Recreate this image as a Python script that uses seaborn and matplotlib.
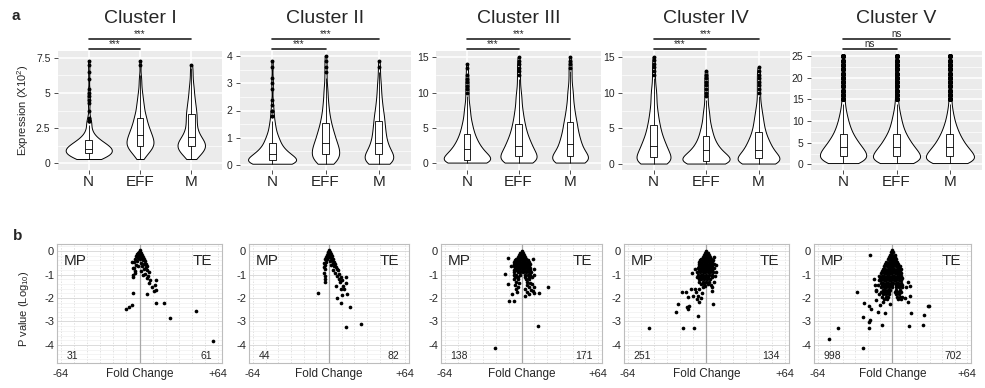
import numpy as np
import pandas as pd
import seaborn as sns
import matplotlib.pyplot as plt
from matplotlib.ticker import MultipleLocator, FixedLocator

sns.set_style("white")
plt.rcParams['font.family'] = ['Liberation Sans', 'DejaVu Sans']
plt.rcParams['mathtext.fontset'] = 'custom'
plt.rcParams['mathtext.rm'] = 'Liberation Sans'
plt.rcParams['mathtext.it'] = 'Liberation Sans:italic'

groups = ['N', 'EFF', 'M']
clusters = ['Cluster I', 'Cluster II', 'Cluster III', 'Cluster IV', 'Cluster V']
sig_short = ['***', '***', '***', '***', 'ns']   # N vs EFF
sig_long = ['***', '***', '***', '***', 'ns']    # N vs M

# expression levels (x10^2) and how many genes sit at each level, per group
levels_1 = [0.3, 0.5, 0.75, 1.0, 1.25, 1.5, 1.75, 2.0, 2.25, 2.5, 2.75, 3.0, 3.25, 3.5, 3.75,
            4.0, 4.25, 4.5, 4.75, 5.0, 5.25, 5.5, 5.75, 6.0, 6.25, 6.5, 6.75, 7.0, 7.3]
c1_n = [10, 16, 22, 22, 18, 13, 8, 5, 3, 2, 2, 3, 1, 0, 1, 0, 1, 1, 1, 1, 1, 0, 0, 1, 0, 1, 0, 1, 1]
c1_eff = [2, 4, 6, 9, 11, 11, 10, 9, 8, 7, 6, 5, 5, 4, 3, 3, 3, 2, 2, 2, 1, 1, 1, 1, 1, 0, 0, 1, 1]
c1_m = [3, 5, 8, 11, 12, 11, 8, 6, 5, 4, 4, 4, 4, 4, 4, 3, 3, 3, 2, 2, 2, 2, 1, 1, 1, 1, 1, 1, 0]

levels_2 = [0.05, 0.2, 0.4, 0.6, 0.8, 1.0, 1.2, 1.4, 1.6, 1.8, 2.0, 2.2, 2.4, 2.6, 2.8, 3.0,
            3.2, 3.4, 3.6, 3.8, 4.0]
c2_n = [25, 30, 22, 14, 10, 8, 5, 4, 3, 2, 2, 1, 1, 0, 1, 1, 1, 0, 1, 1, 0]
c2_eff = [6, 12, 14, 13, 11, 9, 8, 6, 5, 4, 3, 3, 2, 2, 2, 1, 1, 1, 1, 1, 1]
c2_m = [10, 16, 14, 10, 8, 7, 6, 6, 5, 5, 4, 3, 3, 2, 2, 2, 1, 1, 1, 1, 0]

levels_34 = [0.1, 0.5, 1, 1.5, 2, 2.5, 3, 3.5, 4, 4.5, 5, 5.5, 6, 6.5, 7, 7.5, 8, 8.5, 9, 9.5,
             10, 10.5, 11, 11.5, 12, 12.5, 13, 13.5, 14, 14.5, 15]
c3_n = [20, 18, 13, 12, 10, 8, 7, 6, 5, 4, 4, 3, 3, 2, 2, 2, 2, 1, 1, 1, 1, 1, 1, 1, 1, 1, 0, 1, 1, 0, 0]
c3_eff = [14, 14, 13, 11, 10, 9, 8, 7, 6, 5, 5, 4, 4, 3, 3, 3, 2, 2, 2, 2, 2, 1, 1, 1, 1, 1, 1, 1, 1, 1, 1]
c3_m = [16, 15, 13, 10, 9, 8, 7, 7, 6, 5, 5, 5, 4, 4, 3, 3, 3, 2, 2, 2, 2, 2, 1, 1, 1, 1, 1, 1, 1, 1, 1]
c4_n = [14, 14, 12, 11, 10, 9, 8, 7, 6, 5, 5, 4, 4, 3, 3, 3, 2, 2, 2, 2, 2, 2, 1, 1, 1, 1, 1, 1, 1, 1, 1]
c4_eff = [16, 18, 14, 11, 9, 7, 6, 5, 4, 4, 3, 3, 2, 2, 2, 2, 1, 1, 1, 1, 1, 1, 1, 1, 1, 1, 1, 0, 0, 0, 0]
c4_m = [15, 16, 13, 11, 9, 8, 7, 6, 5, 4, 4, 3, 3, 3, 2, 2, 2, 1, 1, 1, 1, 1, 1, 1, 1, 1, 1, 1, 0, 0, 0]

levels_5 = [0.3, 1, 2, 3, 4, 5, 6, 7, 8, 9, 10, 11, 12, 13, 14, 15, 16, 17, 18, 19, 20, 21, 22, 23, 24, 25]
c5_n = [30, 48, 54, 48, 40, 33, 27, 21, 17, 14, 11, 9, 7, 5, 4, 3, 3, 3, 3, 3, 3, 3, 3, 3, 3, 3]
c5_eff = [36, 52, 54, 46, 38, 31, 26, 20, 16, 13, 11, 9, 7, 5, 4, 3, 3, 3, 3, 3, 3, 3, 3, 3, 3, 3]
c5_m = [38, 54, 54, 45, 37, 30, 25, 20, 16, 13, 10, 8, 6, 5, 3, 3, 3, 3, 3, 3, 3, 3, 3, 3, 3, 3]

yticks_top = [[0, 2.5, 5, 7.5], [0, 1, 2, 3, 4], [0, 5, 10, 15], [0, 5, 10, 15], [0, 5, 10, 15, 20, 25]]
ytick_labels_top = [['0', '2.5', '5', '7.5'], ['0', '1', '2', '3', '4'], ['0', '5', '10', '15'],
                    ['0', '5', '10', '15'], ['0', '5', '10', '15', '20', '25']]

# volcano points: (log2 fold change, log10 p value)
volc_1 = [
    (0.0, 0.03), (-0.05, -0.02), (0.07, -0.04), (-0.1, -0.08), (0.12, -0.09), (0.02, -0.12),
    (-0.18, -0.14), (0.2, -0.15), (-0.07, -0.19), (0.09, -0.21), (-0.26, -0.2), (0.3, -0.24),
    (0.16, -0.28), (-0.14, -0.29), (-0.32, -0.33), (0.36, -0.33), (0.0, -0.35), (0.25, -0.4),
    (-0.22, -0.43), (0.44, -0.44), (-0.4, -0.48), (0.1, -0.5), (0.32, -0.54), (0.5, -0.56),
    (-0.3, -0.6), (0.2, -0.63), (-0.12, -0.62), (0.46, -0.68), (0.6, -0.62), (-0.45, -0.72),
    (0.36, -0.78), (0.56, -0.8), (-0.36, -0.86), (0.14, -0.84), (0.7, -0.9), (0.45, -0.96),
    (-0.5, -1.02), (0.3, -1.02), (0.67, -1.06), (0.6, -1.15), (0.83, -1.24), (1.29, -1.23),
    (0.75, -1.35), (1.17, -1.45), (0.92, -1.52), (1.12, -1.71), (1.24, -1.64), (0.54, -1.81),
    (-0.48, -1.12), (-0.36, -0.95), (-0.53, -0.73), (-0.58, -0.47), (-0.53, -1.8), (-0.56, -2.3),
    (-0.77, -2.4), (-1.02, -2.48), (1.29, -2.2), (1.84, -2.2), (2.34, -2.87), (4.3, -2.55),
    (5.63, -3.82)]
volc_2 = [
    (0.0, 0.03), (0.05, -0.02), (-0.06, -0.05), (0.1, -0.08), (-0.1, -0.1), (0.0, -0.13),
    (0.18, -0.14), (-0.16, -0.17), (0.08, -0.2), (0.26, -0.22), (-0.24, -0.24), (0.0, -0.27),
    (0.16, -0.3), (-0.12, -0.32), (0.34, -0.32), (-0.3, -0.36), (0.25, -0.4), (0.05, -0.42),
    (-0.2, -0.45), (0.42, -0.45), (-0.36, -0.5), (0.3, -0.52), (0.5, -0.55), (-0.28, -0.58),
    (0.15, -0.6), (0.4, -0.62), (-0.42, -0.68), (0.55, -0.68), (0.62, -0.75), (-0.3, -0.78),
    (0.35, -0.8), (0.72, -0.82), (-0.38, -0.92), (0.5, -0.92), (0.8, -0.96), (-0.3, -1.05),
    (0.6, -1.05), (0.95, -1.1), (-0.35, -1.2), (0.75, -1.2), (1.05, -1.25), (-0.3, -1.3),
    (0.85, -1.32), (1.3, -1.38), (0.57, -1.5), (1.09, -1.5), (1.35, -1.1), (0.95, -1.62),
    (1.2, -1.62), (1.01, -1.87), (1.39, -1.83), (0.65, -2.01), (0.96, -2.2), (1.63, -2.4),
    (-0.9, -1.8), (1.35, -3.24), (2.51, -3.09)]
volc_3 = [
    (0.0, 0.02), (-0.08, -0.08), (0.08, -0.08), (-0.2, -0.16), (0.0, -0.16), (0.18, -0.16),
    (-0.3, -0.24), (-0.1, -0.24), (0.1, -0.24), (0.28, -0.24),
    (-0.42, -0.32), (-0.22, -0.32), (0.0, -0.32), (0.2, -0.32), (0.38, -0.32),
    (-0.5, -0.4), (-0.3, -0.4), (-0.1, -0.4), (0.1, -0.4), (0.3, -0.4), (0.48, -0.4),
    (-0.6, -0.48), (-0.4, -0.48), (-0.2, -0.48), (0.0, -0.48), (0.2, -0.48), (0.4, -0.48), (0.58, -0.48),
    (-0.55, -0.56), (-0.35, -0.56), (-0.15, -0.56), (0.05, -0.56), (0.25, -0.56), (0.45, -0.56), (0.65, -0.56),
    (-0.6, -0.64), (-0.4, -0.64), (-0.2, -0.64), (0.0, -0.64), (0.2, -0.64), (0.4, -0.64), (0.6, -0.64),
    (-0.5, -0.72), (-0.3, -0.72), (-0.1, -0.72), (0.1, -0.72), (0.3, -0.72), (0.5, -0.72), (0.7, -0.72),
    (-0.6, -0.8), (-0.4, -0.8), (-0.2, -0.8), (0.0, -0.8), (0.2, -0.8), (0.45, -0.8), (0.65, -0.8),
    (-0.55, -0.9), (-0.3, -0.9), (-0.1, -0.9), (0.1, -0.9), (0.35, -0.9), (0.55, -0.9), (0.75, -0.9),
    (-0.6, -1.0), (-0.4, -1.0), (-0.15, -1.0), (0.25, -1.0), (0.5, -1.0), (0.7, -1.0),
    (-0.5, -1.1), (-0.25, -1.1), (0.3, -1.1), (0.55, -1.1), (0.8, -1.1),
    (-0.55, -1.2), (-0.3, -1.2), (0.35, -1.2), (0.6, -1.2),
    (-0.45, -1.3), (-0.2, -1.35), (0.4, -1.32), (0.7, -1.35), (-0.5, -1.45), (0.45, -1.45),
    (0.85, -1.4), (-0.3, -1.55), (0.6, -1.55), (0.95, -1.55), (-0.46, -1.6), (0.3, -1.62),
    (0.75, -1.65), (-0.72, -1.83), (-0.35, -1.75), (0.4, -1.75), (0.9, -1.7), (0.55, -1.85),
    (1.0, -1.8), (0.25, -1.9), (-2.05, -4.15), (1.31, -3.2), (2.05, -1.52), (-0.95, -2.12),
    (-0.57, -2.12), (-1.03, -1.4), (-1.28, -0.97), (-1.03, -0.3), (1.39, -1.79), (-0.85, -0.65),
    (0.9, -0.35), (0.95, -0.75), (1.0, -1.0)]
volc_4 = [
    (0.0, 0.02), (-0.1, -0.08), (0.08, -0.08), (-0.2, -0.16), (0.0, -0.16), (0.18, -0.16),
    (-0.3, -0.24), (-0.1, -0.24), (0.1, -0.24), (0.28, -0.24),
    (-0.4, -0.32), (-0.2, -0.32), (0.0, -0.32), (0.2, -0.32), (0.38, -0.32),
    (-0.5, -0.4), (-0.3, -0.4), (-0.1, -0.4), (0.1, -0.4), (0.3, -0.4), (0.5, -0.4),
    (-0.55, -0.48), (-0.35, -0.48), (-0.15, -0.48), (0.05, -0.48), (0.25, -0.48), (0.45, -0.48),
    (-0.6, -0.56), (-0.4, -0.56), (-0.2, -0.56), (0.0, -0.56), (0.2, -0.56), (0.4, -0.56), (0.6, -0.56),
    (-0.55, -0.64), (-0.35, -0.64), (-0.15, -0.64), (0.05, -0.64), (0.25, -0.64), (0.45, -0.64),
    (-0.65, -0.72), (-0.45, -0.72), (-0.25, -0.72), (-0.05, -0.72), (0.15, -0.72), (0.35, -0.72), (0.55, -0.72),
    (-0.6, -0.8), (-0.4, -0.8), (-0.2, -0.8), (0.0, -0.8), (0.2, -0.8), (0.4, -0.8),
    (-0.7, -0.9), (-0.5, -0.9), (-0.3, -0.9), (-0.1, -0.9), (0.1, -0.9), (0.3, -0.9), (0.5, -0.9),
    (-0.65, -1.0), (-0.45, -1.0), (-0.25, -1.0), (-0.05, -1.0), (0.2, -1.0), (0.45, -1.0),
    (-0.7, -1.1), (-0.5, -1.1), (-0.3, -1.1), (-0.1, -1.1), (0.15, -1.1), (0.4, -1.1),
    (-0.6, -1.2), (-0.4, -1.2), (-0.2, -1.2), (0.05, -1.2), (0.3, -1.2),
    (-0.55, -1.3), (-0.3, -1.3), (-0.05, -1.3), (0.2, -1.3),
    (-0.45, -1.4), (-0.2, -1.4), (0.1, -1.4),
    (0.6, -0.27), (0.7, -0.6), (0.75, -0.9), (0.65, -1.05), (0.55, -1.3), (0.45, -1.55),
    (0.4, -1.7), (0.5, -2.25), (0.38, -1.45), (-1.1, -0.95), (-0.9, -0.75), (-0.3, -1.55),
    (-0.1, -1.5), (-0.6, -1.6), (-0.8, -1.75), (-1.2, -1.6), (-0.35, -1.8), (-0.65, -1.9),
    (-0.45, -2.0), (-0.75, -2.05), (-1.0, -1.9), (-0.55, -2.15), (-1.5, -2.4), (-1.45, -2.45),
    (-1.35, -2.35), (-1.88, -1.75), (-1.55, -1.75), (-2.18, -2.25), (-2.31, -2.61), (-0.63, -2.77),
    (-1.76, -3.3), (-0.93, -3.3), (-4.39, -3.28), (-1.4, -1.95), (-0.85, -1.6)]
volc_5 = [
    (0.0, 0.05), (-0.1, -0.05), (0.08, -0.05), (-0.2, -0.15), (0.0, -0.15), (0.18, -0.15),
    (-0.3, -0.25), (-0.12, -0.25), (0.06, -0.25), (0.24, -0.25),
    (-0.4, -0.35), (-0.22, -0.35), (-0.04, -0.35), (0.14, -0.35), (0.32, -0.35),
    (-0.5, -0.45), (-0.32, -0.45), (-0.14, -0.45), (0.04, -0.45), (0.22, -0.45), (0.4, -0.45),
    (-0.6, -0.55), (-0.42, -0.55), (-0.24, -0.55), (-0.06, -0.55), (0.12, -0.55), (0.3, -0.55), (0.48, -0.55),
    (-0.65, -0.65), (-0.47, -0.65), (-0.29, -0.65), (-0.11, -0.65), (0.07, -0.65), (0.25, -0.65),
    (0.43, -0.65), (0.58, -0.65),
    (-0.75, -0.75), (-0.57, -0.75), (-0.39, -0.75), (-0.21, -0.75), (-0.03, -0.75), (0.15, -0.75),
    (0.33, -0.75), (0.51, -0.75), (0.66, -0.75),
    (-0.85, -0.85), (-0.67, -0.85), (-0.49, -0.85), (-0.31, -0.85), (-0.13, -0.85), (0.05, -0.85),
    (0.23, -0.85), (0.41, -0.85), (0.59, -0.85),
    (-0.9, -0.95), (-0.72, -0.95), (-0.54, -0.95), (-0.36, -0.95), (-0.18, -0.95), (0.0, -0.95),
    (0.18, -0.95), (0.36, -0.95), (0.54, -0.95), (0.7, -0.95),
    (-1.05, -1.05), (-0.85, -1.05), (-0.65, -1.05), (-0.45, -1.05), (-0.25, -1.05), (-0.05, -1.05),
    (0.15, -1.05), (0.35, -1.05), (0.55, -1.05), (0.72, -1.05),
    (-1.0, -1.15), (-0.8, -1.15), (-0.6, -1.15), (-0.4, -1.15), (-0.2, -1.15), (0.0, -1.15),
    (0.2, -1.15), (0.4, -1.15), (0.6, -1.15), (0.8, -1.15),
    (-1.1, -1.25), (-0.9, -1.25), (-0.7, -1.25), (-0.5, -1.25), (-0.3, -1.25), (-0.1, -1.25),
    (0.1, -1.25), (0.3, -1.25), (0.5, -1.25), (0.7, -1.25),
    (-0.95, -1.35), (-0.75, -1.35), (-0.55, -1.35), (-0.35, -1.35), (-0.15, -1.35), (0.05, -1.35),
    (0.25, -1.35), (0.45, -1.35), (0.65, -1.35),
    (-1.2, -1.45), (-0.85, -1.45), (-0.65, -1.45), (-0.45, -1.45), (-0.25, -1.45), (0.0, -1.45),
    (0.3, -1.45), (0.5, -1.45), (0.75, -1.45),
    (-0.9, -1.55), (-0.7, -1.55), (-0.5, -1.55), (-0.3, -1.55), (-0.05, -1.55), (0.25, -1.55),
    (0.55, -1.55), (0.8, -1.55),
    (-1.3, -1.65), (-0.8, -1.65), (-0.6, -1.65), (-0.4, -1.65), (-0.2, -1.65), (0.3, -1.65), (0.6, -1.65),
    (-0.95, -1.75), (-0.7, -1.75), (-0.45, -1.75), (-0.25, -1.75), (0.2, -1.75), (0.45, -1.75), (0.7, -1.75),
    (-1.1, -1.85), (-0.75, -1.85), (-0.5, -1.85), (-0.3, -1.85), (0.25, -1.85), (0.55, -1.85),
    (-0.85, -1.95), (-0.55, -1.95), (-0.35, -1.95), (0.35, -1.95), (0.6, -1.95), (0.8, -1.95),
    (-0.7, -2.05), (-0.45, -2.05), (0.45, -2.05), (0.7, -2.05),
    (-5.13, -3.76), (-4.34, -3.29), (-2.87, -1.73), (-2.37, -4.15), (-1.82, -0.17), (-2.29, -2.22),
    (-1.9, -2.33), (-1.72, -2.47), (-2.37, -2.81), (-1.92, -3.04), (-1.77, -2.93), (-1.9, -3.29),
    (-0.84, -3.15), (-1.32, -1.72), (-1.32, -2.08), (-1.18, -2.58), (-1.03, -2.3), (-0.76, -2.18),
    (-0.24, -2.25), (-0.58, -2.62), (1.26, -1.33), (1.4, -1.47), (1.12, -1.55), (1.4, -1.9),
    (1.26, -2.15), (1.45, -2.66), (1.34, -3.2), (2.5, -2.73), (2.92, -2.36), (2.85, -2.33),
    (2.47, -3.15), (1.0, -2.0), (-1.5, -1.2), (-1.4, -1.45)]
mp_counts = [31, 44, 138, 251, 998]
te_counts = [61, 82, 171, 134, 702]


def violin_frame(levels, n, eff, m):
    vals = [np.repeat(levels, n), np.repeat(levels, eff), np.repeat(levels, m)]
    return pd.DataFrame({'group': np.repeat(groups, [len(v) for v in vals]),
                         'value': np.concatenate(vals)})


violin_data = [violin_frame(levels_1, c1_n, c1_eff, c1_m),
               violin_frame(levels_2, c2_n, c2_eff, c2_m),
               violin_frame(levels_34, c3_n, c3_eff, c3_m),
               violin_frame(levels_34, c4_n, c4_eff, c4_m),
               violin_frame(levels_5, c5_n, c5_eff, c5_m)]
volcano = [volc_1, volc_2, volc_3, volc_4, volc_5]

W, H = 985, 388
fig = plt.figure(figsize=(W / 100, H / 100), dpi=100)

top_x = [(58, 222), (240, 411), (436, 601), (622, 790), (811, 982)]
top_ylim = [(-0.48, 7.98), (-0.18, 4.18), (-0.95, 15.9), (-0.8, 15.8), (-1.3, 26.2)]
minor_step = [1.25, 0.5, 2.5, 2.5, 2.5]
bw = [0.6, 0.6, 0.6, 0.6, 0.7]
flier = [1.8, 1.8, 1.8, 1.8, 2.6]

for i in range(5):
    l, r = top_x[i]
    ax = fig.add_axes([l / W, 1 - 170 / H, (r - l) / W, 119 / H])
    df = violin_data[i]
    sns.violinplot(data=df, x='group', y='value', order=groups, ax=ax, inner=None, cut=0,
                   density_norm='area', width=0.9, color='white', saturation=1,
                   linecolor='black', linewidth=0.7, bw_adjust=bw[i])
    sns.boxplot(data=df, x='group', y='value', order=groups, ax=ax, width=0.13,
                color='white', saturation=1, linecolor='black', linewidth=0.6, fliersize=flier[i],
                flierprops=dict(marker='o', markerfacecolor='black', markeredgecolor='black'),
                capprops=dict(linewidth=0))
    ax.set_facecolor('#EBEBEB')
    for s in ax.spines.values():
        s.set_visible(False)
    ax.set_xlim(-0.6, 2.6)
    ax.set_ylim(*top_ylim[i])
    ax.set_yticks(yticks_top[i])
    ax.set_yticklabels(ytick_labels_top[i])
    ax.yaxis.set_minor_locator(MultipleLocator(minor_step[i]))
    ax.set_axisbelow(True)
    ax.grid(True, which='major', color='white', linewidth=1.1)
    ax.grid(True, which='minor', axis='y', color='white', linewidth=0.5)
    ax.tick_params(axis='y', which='major', labelsize=7.5, length=3, width=0.6,
                   color='#333333', pad=2.5, left=True)
    ax.tick_params(axis='x', which='major', labelsize=11, length=3, width=0.6,
                   color='#333333', pad=0.5, bottom=True)
    ax.tick_params(which='minor', length=0)
    ax.set_xlabel('')
    ax.set_ylabel('')

    tr = ax.get_xaxis_transform()
    for x2, yb, lab in [(1, 1.02, sig_short[i]), (2, 1.105, sig_long[i])]:
        ax.plot([0, x2], [yb, yb], transform=tr, color='#222222', lw=1.2, clip_on=False)
        ax.text(x2 / 2, yb + 0.015, lab, transform=tr, ha='center', va='baseline', fontsize=7)
    ax.text(0.5, 1.233, clusters[i], transform=ax.transAxes, ha='center', va='baseline',
            fontsize=14)

fig.text(23 / W, 1 - 110.5 / H, 'Expression (X10$^{\\mathregular{2}}$)', rotation=90,
         ha='center', va='center', fontsize=8)

bot_x = [(57, 222), (249, 409), (441, 602), (624, 789), (814, 971)]
for i in range(5):
    l, r = bot_x[i]
    ax = fig.add_axes([l / W, 1 - 363 / H, (r - l) / W, 119 / H])
    pts = pd.DataFrame(volcano[i], columns=['fc', 'logp'])
    ax.axvline(0, color='#a8a8a8', lw=0.9, zorder=1)
    sns.scatterplot(data=pts, x='fc', y='logp', ax=ax, color='black', s=7, linewidth=0, zorder=3)
    ax.set_xlim(-6.3, 6.3)
    ax.set_ylim(-4.77, 0.3)
    ax.set_xticks([-6, 6])
    ax.set_xticklabels(['-64', '+64'])
    ax.xaxis.set_minor_locator(FixedLocator([-5, -4, -3, -2, -1, 1, 2, 3, 4, 5]))
    ax.set_yticks([0, -1, -2, -3, -4])
    ax.set_yticklabels(['0', '-1', '-2', '-3', '-4'])
    ax.yaxis.set_minor_locator(MultipleLocator(0.2))
    ax.set_axisbelow(True)
    ax.grid(True, axis='y', which='major', color='#d6d6d6', lw=0.6)
    ax.grid(True, axis='y', which='minor', color='#f0f0f0', lw=0.5)
    ax.grid(True, axis='x', which='both', color='#d4d4d4', lw=0.5, ls=(0, (2, 2)))
    for s in ax.spines.values():
        s.set_color('#bdbdbd')
        s.set_linewidth(0.8)
    ax.tick_params(axis='y', labelsize=8, length=0, pad=2)
    ax.tick_params(axis='x', labelsize=8, length=0, pad=4)
    ax.tick_params(which='minor', length=0)
    ax.set_xlabel('')
    ax.set_ylabel('')
    ax.text(0.5, -0.12, 'Fold Change', transform=ax.transAxes, ha='center', va='baseline',
            fontsize=8.5)
    ax.text(0.04, 0.824, 'MP', transform=ax.transAxes, ha='left', va='baseline', fontsize=11)
    ax.text(0.94, 0.824, 'TE', transform=ax.transAxes, ha='right', va='baseline', fontsize=11)
    ax.text(0.06, 0.034, str(mp_counts[i]), transform=ax.transAxes, ha='left', va='baseline',
            fontsize=7.5)
    ax.text(0.94, 0.034, str(te_counts[i]), transform=ax.transAxes, ha='right', va='baseline',
            fontsize=7.5)

fig.text(24 / W, 1 - 309 / H, 'P value (Log$_{\\mathregular{10}}$)', rotation=90,
         ha='center', va='center', fontsize=8)

fig.text(12 / W, 1 - 19.5 / H, 'a', ha='left', va='baseline', fontsize=11, fontweight='bold')
fig.text(13 / W, 1 - 240 / H, 'b', ha='left', va='baseline', fontsize=11, fontweight='bold')

fig.savefig('out.png', dpi=100)
plt.close(fig)
